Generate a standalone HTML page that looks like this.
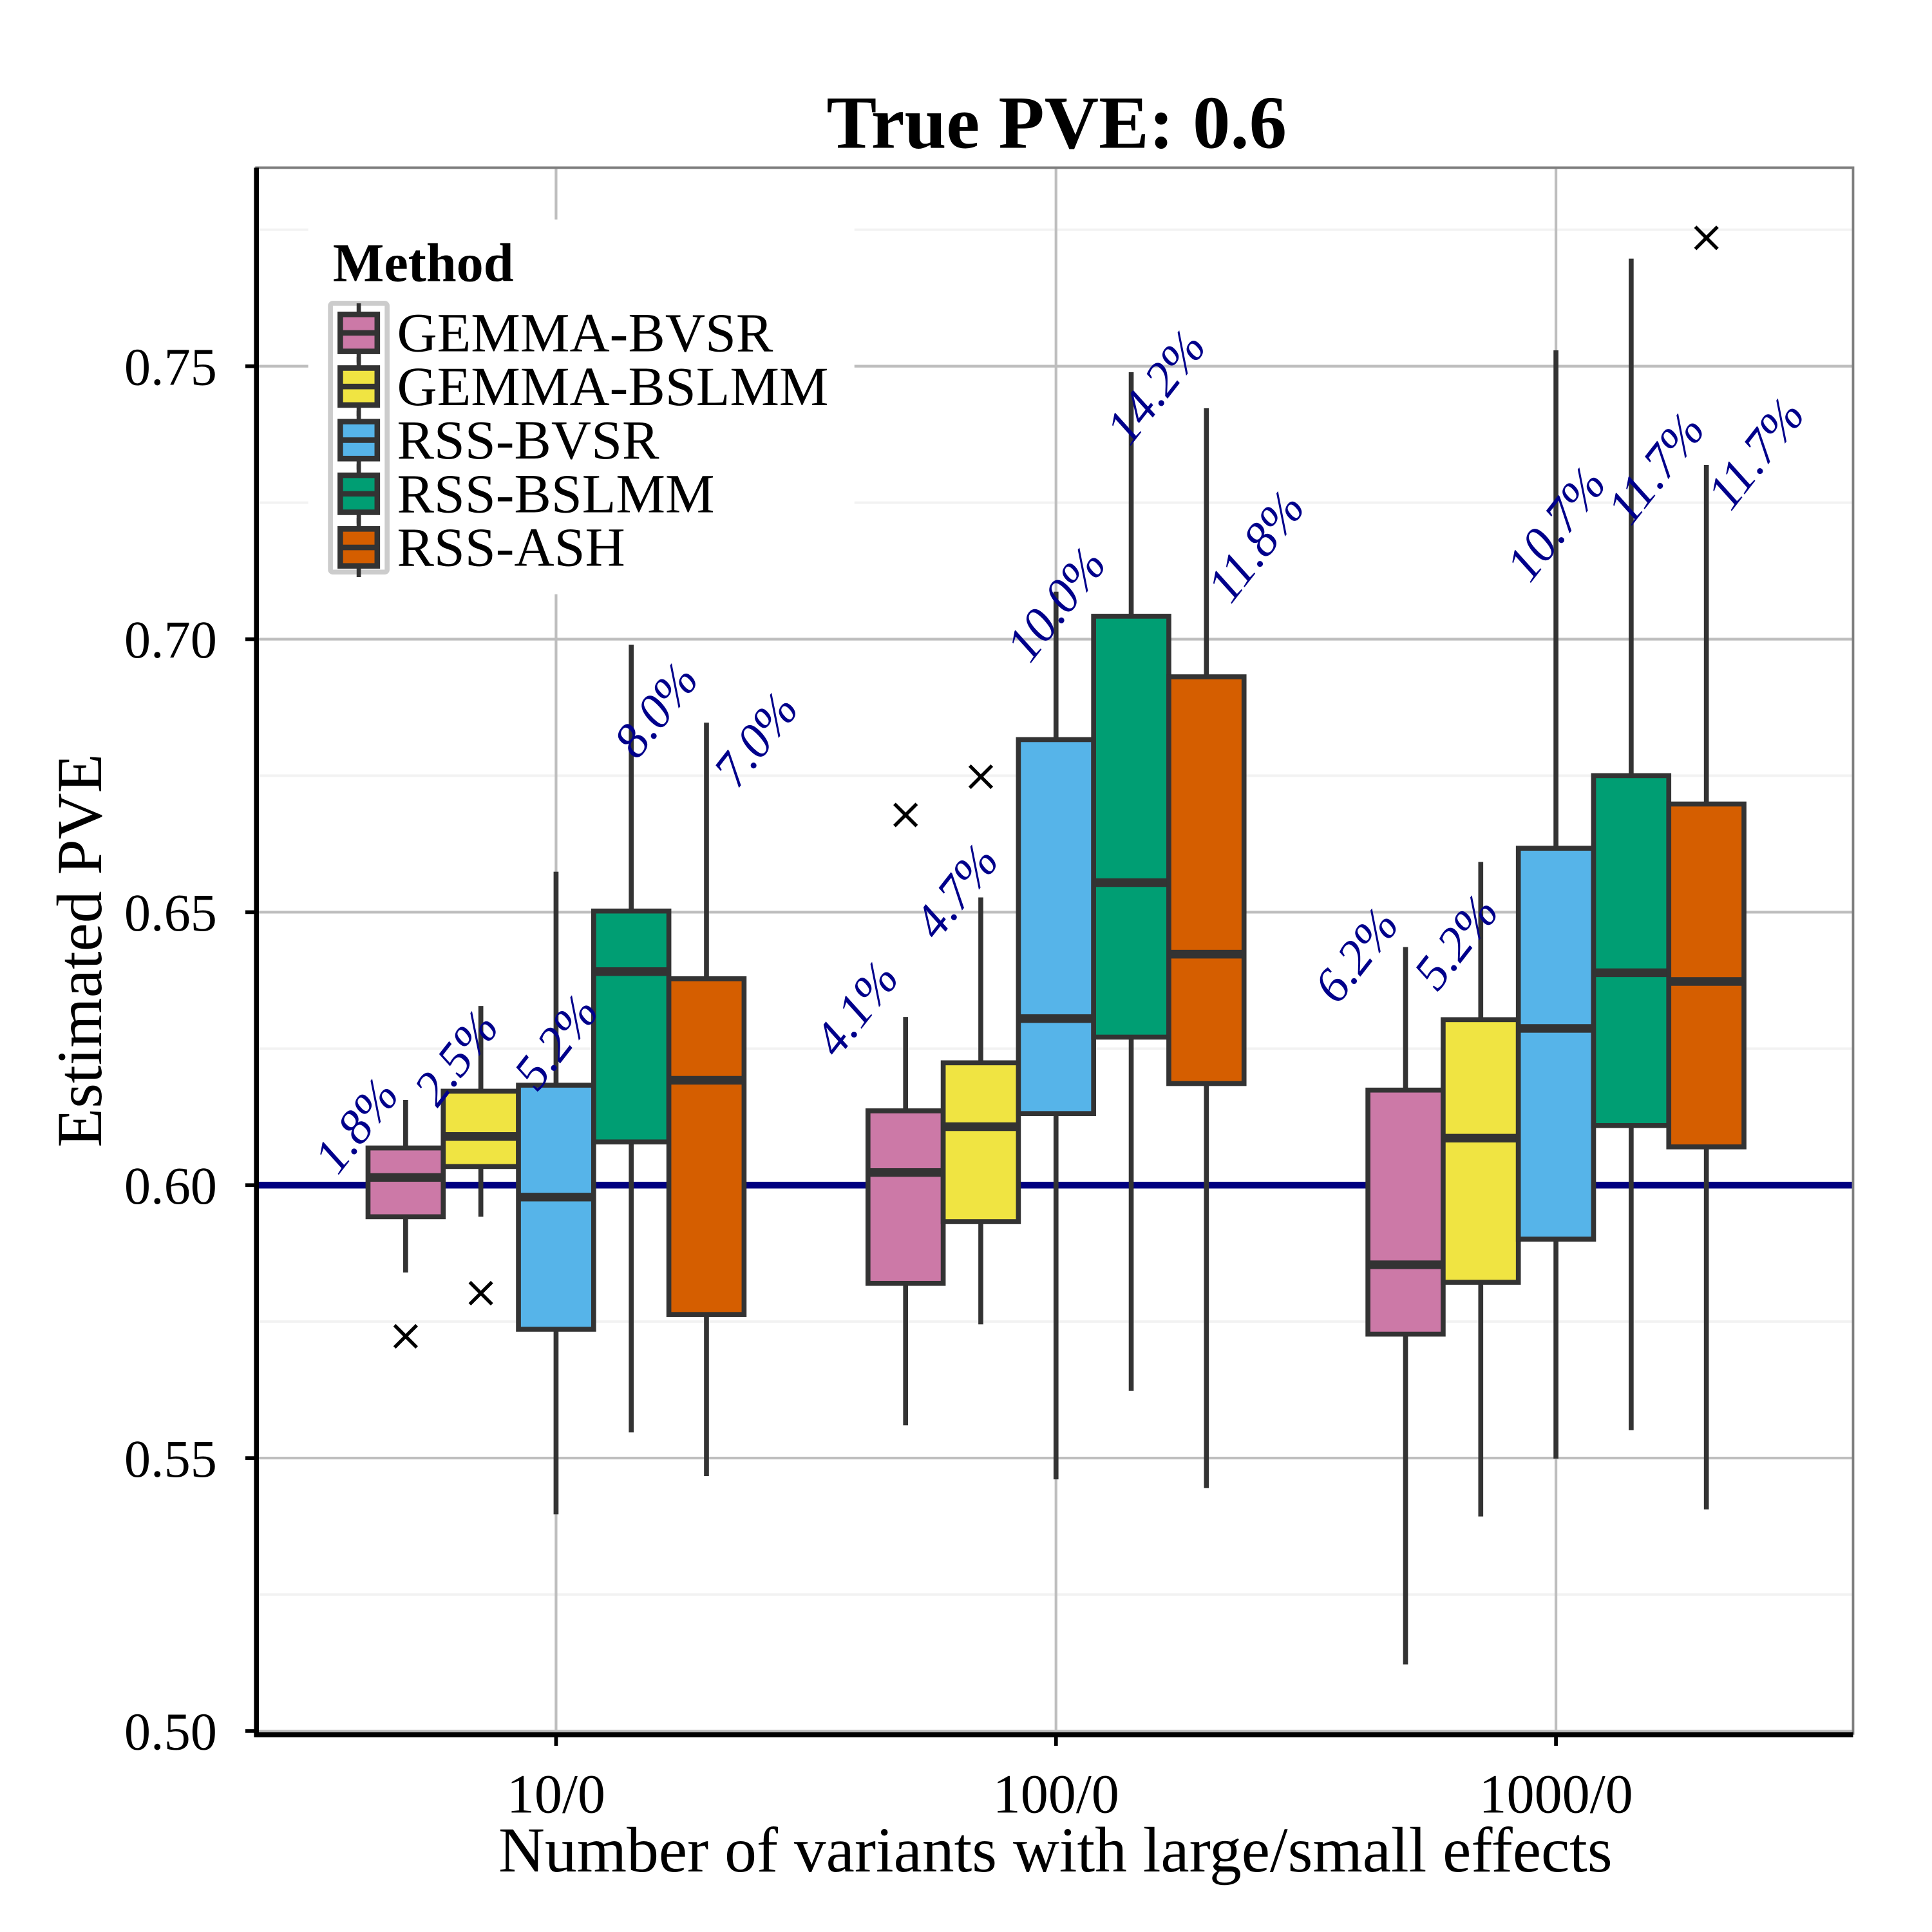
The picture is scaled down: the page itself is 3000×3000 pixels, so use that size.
<!DOCTYPE html>
<html><head><meta charset="utf-8"><style>
html,body{margin:0;padding:0;background:#fff;}
svg{display:block;}
text{font-family:"Liberation Serif",serif;}
</style></head><body>
<svg id="chart" width="3000" height="3000" viewBox="0 0 1567 1567" xmlns="http://www.w3.org/2000/svg">
<rect x="0" y="0" width="1567" height="1567" fill="#fff"/>
<g id="grid"></g>
<g id="boxes"></g>
<g id="labels"></g>
<rect x="208" y="136" width="1295" height="1270" fill="none" stroke="#7f7f7f" stroke-width="2"/>
<line x1="208" y1="136" x2="208" y2="1408" stroke="#000" stroke-width="4"/>
<line x1="206" y1="1407" x2="1503" y2="1407" stroke="#000" stroke-width="4"/>
<g id="axes"></g>
<text x="857" y="120" text-anchor="middle" font-size="61" font-weight="bold">True PVE: 0.6</text>
<text x="856" y="1518" text-anchor="middle" font-size="52">Number of variants with large/small effects</text>
<text transform="translate(82,771) rotate(-90)" text-anchor="middle" font-size="52">Estimated PVE</text>
<g id="legend"></g>
</svg>
<script>
const NS="http://www.w3.org/2000/svg";
const groups=["10/0","100/0","1000/0"];
const methods=["GEMMA-BVSR","GEMMA-BSLMM","RSS-BVSR","RSS-BSLMM","RSS-ASH"];
const colors=["#cc79a7","#f0e442","#56b4e9","#009e73","#d55e00"];
const yTicks=[0.50,0.55,0.60,0.65,0.70,0.75];
const yTickLabels=["0.50","0.55","0.60","0.65","0.70","0.75"];
const trueValue=0.6;
// per group, per method: [lower, q1, median, q3, upper]
const stats10=[[0.5840,0.5942,0.6014,0.6068,0.6156],[0.5942,0.6034,0.6089,0.6172,0.6328],[0.5397,0.5736,0.5978,0.6183,0.6574],[0.5547,0.6079,0.6391,0.6502,0.6990],[0.5467,0.5763,0.6192,0.6378,0.6847]];
const stats100=[[0.5560,0.5820,0.6023,0.6136,0.6308],[0.5745,0.5933,0.6107,0.6224,0.6527],[0.5461,0.6131,0.6305,0.6816,0.7087],[0.5623,0.6271,0.6554,0.7042,0.7489],[0.5445,0.6186,0.6423,0.6931,0.7423]];
const stats1000=[[0.5122,0.5727,0.5854,0.6174,0.6436],[0.5393,0.5822,0.6086,0.6303,0.6592],[0.5499,0.5901,0.6287,0.6617,0.7529],[0.5551,0.6109,0.6389,0.6750,0.7697],[0.5406,0.6070,0.6373,0.6698,0.7319]];
const stats=[stats10,stats100,stats1000];
// outliers: [groupIndex, methodIndex, value]
const outliers=[[0,0,0.5723],[0,1,0.5802],[1,0,0.6678],[1,1,0.6748],[2,4,0.7735]];
const pctLabels=[["1.8%","2.5%","5.2%","8.0%","7.0%"],["4.1%","4.7%","10.0%","14.2%","11.8%"],["6.2%","5.2%","10.7%","11.7%","11.7%"]];
const pctLabelY=[[0.6109,0.6233,0.6262,0.6870,0.6816],[0.6323,0.6538,0.7064,0.7462,0.7170],[0.6421,0.6445,0.7211,0.7313,0.7340]];

const X0=208,X1=1503,Y0=136,Y1=1406;
function y(v){return 1404-(v-0.5)*4428;}
function gx(i){return 451+i*405.5;}
function bx(g,m){return gx(g)+(m-2)*61;}
function lx(g,m){return gx(g)+(m-2)*81;}
function mk(tag,attrs,parent){const e=document.createElementNS(NS,tag);for(const k in attrs)e.setAttribute(k,attrs[k]);parent.appendChild(e);return e;}

const grid=document.getElementById('grid');
for(let v=0.525;v<0.78;v+=0.05){
  const l=mk('line',{x1:X0,x2:X1,y1:y(v),y2:y(v),stroke:'#f2f2f2','stroke-width':2},grid);
  
  
}
yTicks.forEach(v=>{
  const l=mk('line',{x1:X0,x2:X1,y1:y(v),y2:y(v),stroke:'#bebebe','stroke-width':2.2},grid);
  
  
});
groups.forEach((g,i)=>{
  const l=mk('line',{x1:gx(i),x2:gx(i),y1:Y0,y2:Y1,stroke:'#bebebe','stroke-width':2.2},grid);
  
  
});
const trueLine=mk('line',{x1:X0,x2:X1,y1:y(trueValue),y2:y(trueValue),stroke:'#000080','stroke-width':5.5},grid);



const boxes=document.getElementById('boxes');
const W=61;
stats.forEach((gs,g)=>{gs.forEach((s,m)=>{
  const cx=bx(g,m);
  const bg=mk('g',{},boxes);
  
  
  mk('line',{x1:cx,x2:cx,y1:y(s[0]),y2:y(s[4]),stroke:'#333','stroke-width':4},bg);
  mk('rect',{x:cx-W/2,y:y(s[3]),width:W,height:y(s[1])-y(s[3]),fill:colors[m],stroke:'#333','stroke-width':4},bg);
  mk('line',{x1:cx-W/2,x2:cx+W/2,y1:y(s[2]),y2:y(s[2]),stroke:'#333','stroke-width':7},bg);
});});
outliers.forEach(o=>{
  const cx=bx(o[0],o[1]),cy=y(o[2]),r=9;
  const p=mk('path',{d:`M${cx-r},${cy-r}L${cx+r},${cy+r}M${cx-r},${cy+r}L${cx+r},${cy-r}`,stroke:'#000','stroke-width':2.8,fill:'none'},boxes);
  
  
});
const labels=document.getElementById('labels');
pctLabels.forEach((row,g)=>row.forEach((t,m)=>{
  const x=lx(g,m),yy=y(pctLabelY[g][m]);
  const e=mk('text',{x:0,y:0,transform:`translate(${x},${yy}) rotate(-52)`,'text-anchor':'middle','dominant-baseline':'central','font-size':40,'font-style':'italic',fill:'#00008b'},labels);
  e.textContent=t;
  
  
}));
const axes=document.getElementById('axes');
yTicks.forEach((v,i)=>{
  mk('line',{x1:199,x2:208,y1:y(v),y2:y(v),stroke:'#000','stroke-width':3},axes);
  const t=mk('text',{x:176,y:y(v)+15,'text-anchor':'end','font-size':43},axes);
  t.textContent=yTickLabels[i];
  
  
});
groups.forEach((gname,i)=>{
  mk('line',{x1:gx(i),x2:gx(i),y1:1407,y2:1416,stroke:'#000','stroke-width':3},axes);
  const t=mk('text',{x:gx(i),y:1470,'text-anchor':'middle','font-size':45},axes);
  t.textContent=gname;
  
  
});
const lg=document.getElementById('legend');
mk('rect',{x:250,y:178,width:443,height:304,fill:'#fff'},lg);
const lt=mk('text',{x:270,y:228,'font-size':44,'font-weight':'bold'},lg);
lt.textContent='Method';


mk('rect',{x:268,y:246,width:46,height:218,fill:'#fff',stroke:'#cccccc','stroke-width':4,rx:2},lg);
methods.forEach((name,i)=>{
  const cy=270+i*43.5;
  const e=mk('g',{},lg);
  
  
  mk('line',{x1:291,x2:291,y1:cy-24,y2:cy+24,stroke:'#333','stroke-width':3.5},e);
  mk('rect',{x:276,y:cy-15,width:30,height:30,fill:colors[i],stroke:'#333','stroke-width':4.5},e);
  mk('line',{x1:276,x2:306,y1:cy,y2:cy,stroke:'#333','stroke-width':4.5},e);
  const t=mk('text',{x:322,y:cy+15,'font-size':45},e);
  t.textContent=name;
});
</script>
</body></html>
